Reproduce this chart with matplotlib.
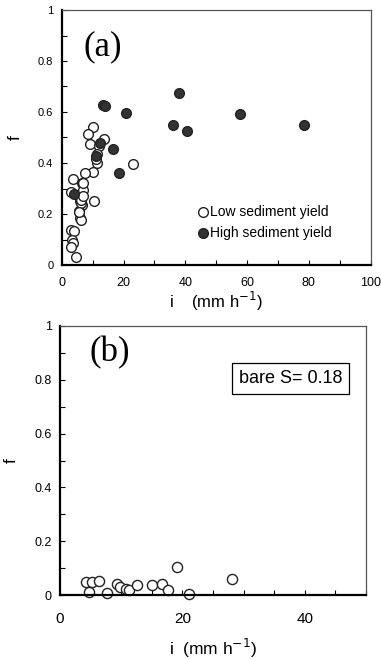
import matplotlib
matplotlib.use("Agg")
import matplotlib.pyplot as plt
from matplotlib.ticker import MultipleLocator
from matplotlib.lines import Line2D

plt.rcParams['font.family'] = ['Liberation Sans', 'DejaVu Sans']

# Panel (a) data
low_i = [10.0, 8.4, 9.2, 13.8, 12.1, 11.3, 11.4, 23.2, 10.2, 7.4, 3.6, 6.5, 6.9, 3.0,
         10.5, 5.9, 6.5, 5.5, 5.9, 6.3, 3.0, 3.9, 3.2, 3.5, 3.1, 4.6, 7.0, 6.1, 5.7,
         6.2, 7.0, 11.0]
low_f = [0.540, 0.515, 0.475, 0.494, 0.465, 0.435, 0.400, 0.398, 0.365, 0.359, 0.336,
         0.321, 0.293, 0.286, 0.250, 0.250, 0.237, 0.211, 0.185, 0.176, 0.136, 0.132,
         0.098, 0.087, 0.069, 0.033, 0.320, 0.242, 0.209, 0.255, 0.270, 0.415]
high_i = [13.3, 14.1, 20.9, 37.9, 36.0, 40.5, 57.7, 78.5, 12.4, 16.6, 11.0, 18.6, 4.0]
high_f = [0.627, 0.622, 0.598, 0.674, 0.549, 0.524, 0.592, 0.550, 0.478, 0.454, 0.426,
          0.361, 0.280]

# Panel (b) data
bare_i = [4.2, 4.8, 5.2, 6.3, 7.7, 9.3, 9.8, 10.8, 11.3, 12.6, 15.1, 16.7, 17.7, 19.1,
          21.1, 28.1]
bare_f = [0.048, 0.010, 0.048, 0.053, 0.006, 0.041, 0.031, 0.021, 0.019, 0.037, 0.037,
          0.041, 0.019, 0.103, 0.003, 0.059]

W, H = 381, 659
fig = plt.figure(figsize=(W / 100, H / 100), dpi=100)

def pos(l, t, r, b):
    return [l / W, 1 - b / H, (r - l) / W, (b - t) / H]

ax1 = fig.add_axes(pos(61.7, 10, 370.7, 265))
ax2 = fig.add_axes(pos(60, 326, 366, 595))

def style(ax, xfs, yfs, xpad):
    for s in ['left', 'bottom']:
        ax.spines[s].set_color('black')
        ax.spines[s].set_linewidth(1.6)
    for s in ['top', 'right']:
        ax.spines[s].set_color('#555555')
        ax.spines[s].set_linewidth(0.9)
    ax.tick_params(which='both', direction='in', length=3.5, width=0.8,
                   top=False, right=False)
    ax.tick_params(axis='x', which='major', labelsize=xfs, pad=xpad)
    ax.tick_params(axis='y', which='major', labelsize=yfs, pad=6)
    ax.yaxis.set_minor_locator(MultipleLocator(0.1))
    ax.set_yticks([0, 0.2, 0.4, 0.6, 0.8, 1.0])
    ax.set_yticklabels(['0', '0.2', '0.4', '0.6', '0.8', '1'])

ms = 7
mec = '#222222'
ax1.plot(low_i, low_f, 'o', ms=ms, mfc='white', mec=mec, mew=1.0, ls='none')
ax1.plot(high_i, high_f, 'o', ms=ms, mfc='#333333', mec=mec, mew=1.0, ls='none')
ax1.set_xlim(0, 100)
ax1.set_ylim(0, 1)
ax1.xaxis.set_major_locator(MultipleLocator(20))
ax1.xaxis.set_minor_locator(MultipleLocator(10))
style(ax1, 9, 8, 9)
ax1.set_xlabel('i    (mm h$^{-1}$)', fontsize=12, labelpad=0)
ax1.set_ylabel('f', fontsize=12.5, labelpad=11)
ax1.text(13.4, 0.855, '(a)', fontsize=25, family='Liberation Serif',
         ha='center', va='center')
handles = [Line2D([], [], marker='o', ls='none', ms=ms, mfc='white', mec=mec, mew=1.0),
           Line2D([], [], marker='o', ls='none', ms=ms, mfc='#333333', mec=mec, mew=1.0)]
ax1.legend(handles, ['Low sediment yield', 'High sediment yield'], loc='center left',
           bbox_to_anchor=(0.43, 0.165), frameon=False, fontsize=10, borderpad=0,
           handletextpad=-0.1, labelspacing=0.5, borderaxespad=0, handlelength=1.2)

ax2.plot(bare_i, bare_f, 'o', ms=ms + 0.3, mfc='white', mec=mec, mew=1.0, ls='none',
         clip_on=False)
ax2.set_xlim(0, 50)
ax2.set_ylim(0, 1)
ax2.xaxis.set_major_locator(MultipleLocator(20))
ax2.xaxis.set_minor_locator(MultipleLocator(5))
style(ax2, 11, 9, 12)
ax2.set_xlabel('i  (mm h$^{-1}$)', fontsize=12.5, labelpad=8)
ax2.set_ylabel('f', fontsize=12.5, labelpad=11)
ax2.text(8.2, 0.90, '(b)', fontsize=25, family='Liberation Serif',
         ha='center', va='center')
ax2.text(37.7, 0.805, 'bare S= 0.18', fontsize=13, ha='center', va='center',
         bbox=dict(boxstyle='square,pad=0.38', fc='white', ec='black', lw=0.9))

fig.savefig('out.png', dpi=100)
